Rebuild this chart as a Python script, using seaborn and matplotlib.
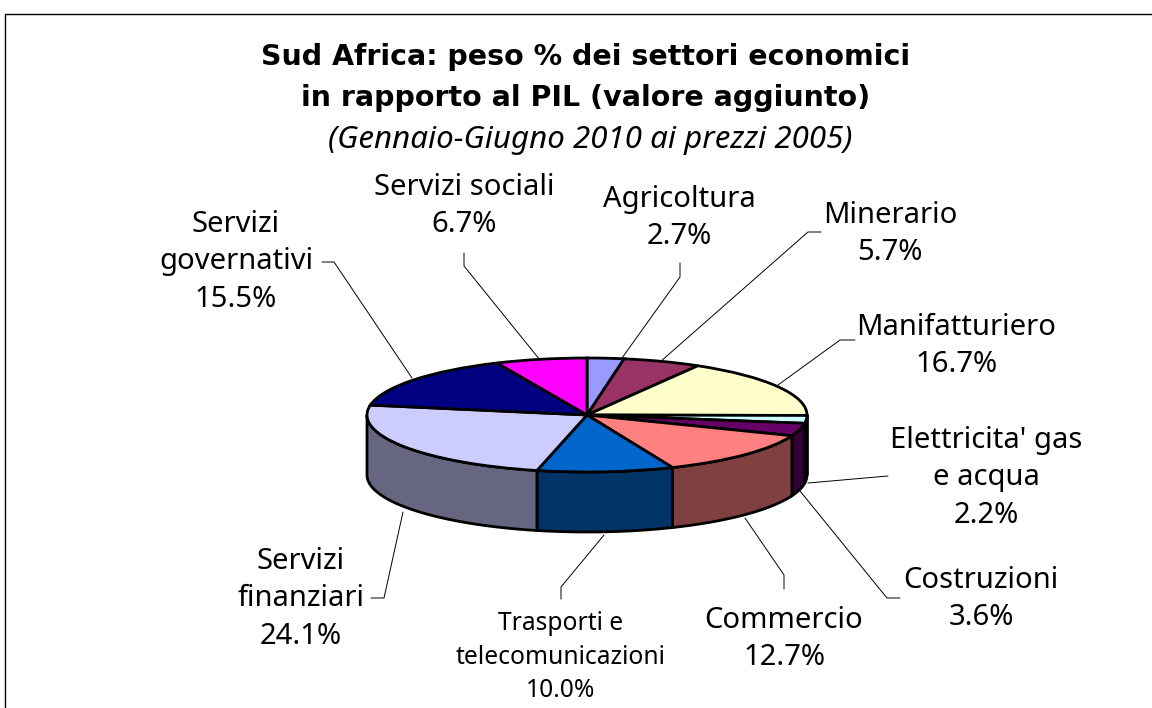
import numpy as np
import seaborn as sns
import matplotlib
matplotlib.use("Agg")
import matplotlib.pyplot as plt

# data, clockwise from 12 o'clock
settori = ["Agricoltura", "Minerario", "Manifatturiero", "Elettricita' gas\ne acqua", "Costruzioni",
           "Commercio", "Trasporti e\ntelecomunicazioni", "Servizi\nfinanziari", "Servizi\ngovernativi",
           "Servizi sociali"]
pesi = [2.7, 5.7, 16.7, 2.2, 3.6, 12.7, 10.0, 24.1, 15.5, 6.7]
colori = ["#9999FF", "#993366", "#FFFFCC", "#CCFFFF", "#660066",
          "#FF8080", "#0066CC", "#CCCCFF", "#000080", "#FF00FF"]

# label centres and leader lines, in picture pixels
pos_label = [(679, 218), (890, 234), (956, 346), (986, 478), (981, 599),
             (784, 639), (561, 657), (301, 599), (236, 262), (464, 206)]
leader = [[(680, 263), (680, 277), (622, 358)],
          [(821, 232), (808, 232), (660, 362)],
          [(855, 340), (840, 340), (778, 385)],
          [(888, 476), (808, 483)],
          [(900, 598), (887, 598), (800, 491)],
          [(784, 589), (784, 575), (745, 518)],
          [(561, 599), (561, 587), (604, 535)],
          [(371, 598), (384, 598), (403, 512)],
          [(322, 262), (334, 262), (412, 378)],
          [(464, 253), (464, 266), (540, 360)]]

W, H = 1152, 708
CX, CY, RX, RY, DEPTH = 587, 415, 220, 57, 60
FONT = "Noto Sans"

sns.set_theme(style="white")
plt.rcParams["font.family"] = [FONT, "DejaVu Sans"]
palette = sns.color_palette(colori)

fig = plt.figure(figsize=(W / 100, H / 100), dpi=100, facecolor="white")

# background axes in pixel coordinates, for the frame, the texts and the leaders
bg = fig.add_axes([0, 0, 1, 1])
bg.set_xlim(0, W)
bg.set_ylim(H, 0)
bg.axis("off")
bg.plot([4.5, 4.5, W], [H, 13.5, 13.5], color="black", lw=1.0)

for punti in leader:
    xs, ys = zip(*punti)
    bg.plot(xs, ys, color="black", lw=0.7)

bg.text(586, 57, "Sud Africa: peso % dei settori economici", ha="center", va="center",
        fontsize=20.5, fontweight="bold", color="black", family="DejaVu Sans")
bg.text(586, 98, "in rapporto al PIL (valore aggiunto)", ha="center", va="center",
        fontsize=20.5, fontweight="bold", color="black", family="DejaVu Sans")
bg.text(590, 140, "(Gennaio-Giugno 2010 ai prezzi 2005)", ha="center", va="center",
        fontsize=22.5, style="italic", color="black")

for nome, val, (x, y) in zip(settori, pesi, pos_label):
    piccolo = nome.startswith("Trasporti")
    bg.text(x, y, f"{nome}\n{val:.1f}%", ha="center", va="center", color="black",
            fontsize=17.7 if piccolo else 21, linespacing=1.44 if piccolo else 1.39)

# pie axes: -1..1 maps onto the ellipse of the top face
ax_w, ax_h = 2.4 * RX, 2.4 * (RY + DEPTH)
ax = fig.add_axes([(CX - ax_w / 2) / W, 1 - (CY + ax_h / 2) / H, ax_w / W, ax_h / H])
ax.patch.set_alpha(0)
ax.pie(pesi, colors=palette, startangle=90, counterclock=False, radius=1,
       wedgeprops={"edgecolor": "black", "linewidth": 2.0, "zorder": 3})
ax.set_aspect("auto")
ax.set_xlim(-1.2, 1.2)
ax.set_ylim(-1.2 * (RY + DEPTH) / RY, 1.2 * (RY + DEPTH) / RY)

# side of the disc, only the front half shows
spessore = DEPTH / RY
limiti = np.cumsum([0] + pesi) / sum(pesi) * 360
for i, col in enumerate(palette):
    a0, a1 = max(limiti[i], 90), min(limiti[i + 1], 270)
    if a1 <= a0:
        continue
    t = np.radians(np.linspace(a0, a1, 60))
    x, y = np.sin(t), np.cos(t)
    scuro = tuple(c * 0.5 for c in col)
    ax.fill(np.r_[x, x[::-1]], np.r_[y, y[::-1] - spessore], facecolor=scuro,
            edgecolor="black", linewidth=2.0, zorder=2)

fig.savefig("out.png", dpi=100)
